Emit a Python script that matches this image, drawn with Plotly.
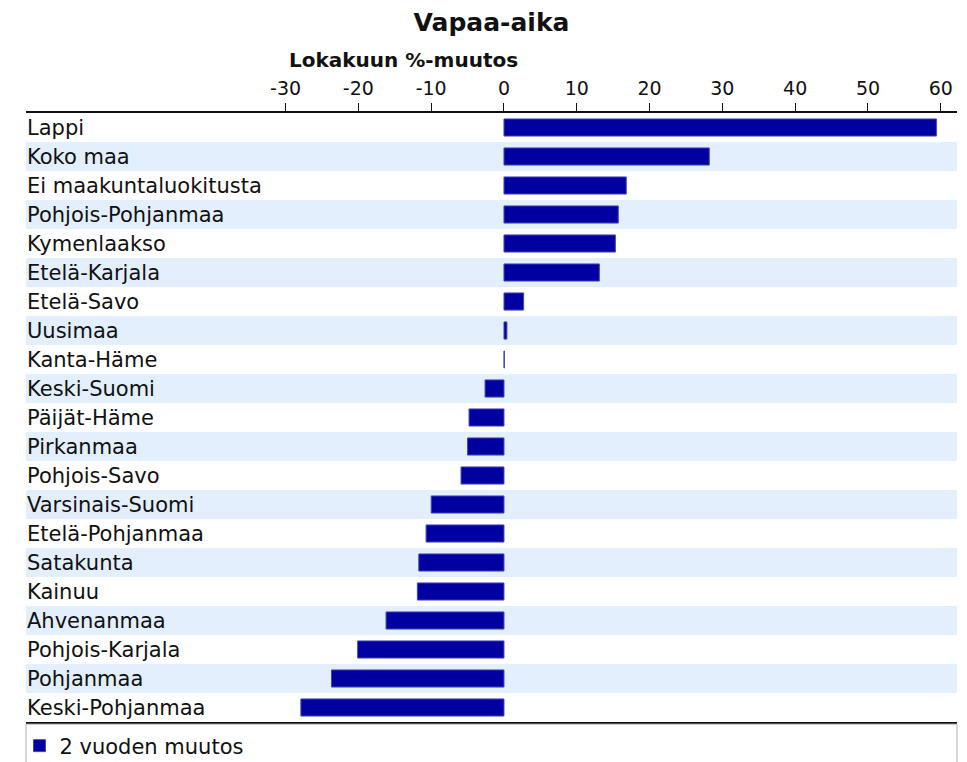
import plotly.graph_objects as go

regions = ["Lappi", "Koko maa", "Ei maakuntaluokitusta", "Pohjois-Pohjanmaa", "Kymenlaakso",
           "Etelä-Karjala", "Etelä-Savo", "Uusimaa", "Kanta-Häme", "Keski-Suomi", "Päijät-Häme",
           "Pirkanmaa", "Pohjois-Savo", "Varsinais-Suomi", "Etelä-Pohjanmaa", "Satakunta", "Kainuu",
           "Ahvenanmaa", "Pohjois-Karjala", "Pohjanmaa", "Keski-Pohjanmaa"]
change_2y = [59.4, 28.2, 16.8, 15.7, 15.3, 13.1, 2.7, 0.4, 0.05, -2.6, -4.8,
             -5.0, -5.9, -10.0, -10.7, -11.7, -11.9, -16.2, -20.1, -23.7, -27.9]
series_name = "2 vuoden muutos"
x_ticks = [-30, -20, -10, 0, 10, 20, 30, 40, 50, 60]
title_text = "Vapaa-aika"
subtitle_text = "Lokakuun %-muutos"

BAR = "#0000a0"
BAND = "#e3effd"
FONT = "DejaVu Sans, Noto Sans, sans-serif"
INK = "#111111"

fig = go.Figure()
fig.add_trace(go.Bar(
    y=regions, x=change_2y, orientation="h", name=series_name,
    marker=dict(color=BAR, line=dict(color="#4646b8", width=1)),
    showlegend=True,
))

shapes = []
for i, r in enumerate(regions):
    if i % 2 == 1:
        shapes.append(dict(type="rect", xref="paper", yref="y", x0=0, x1=1,
                           y0=i - 0.5, y1=i + 0.5, fillcolor=BAND, line=dict(width=0),
                           layer="below"))
# legend box
shapes.append(dict(type="rect", xref="paper", yref="paper", x0=0, x1=1,
                   y0=-0.0035, y1=-0.075, fillcolor="rgba(0,0,0,0)",
                   line=dict(color="#b0b0b0", width=1)))

fig.update_layout(
    width=967, height=762,
    margin=dict(l=26, r=10, t=113, b=40),
    paper_bgcolor="white", plot_bgcolor="white",
    bargap=0.41,
    shapes=shapes,
    title=dict(text="<b>" + title_text + "</b>", x=0.5, xref="paper", xanchor="center",
               y=1 - 22 / 762, yref="container", yanchor="middle",
               font=dict(family=FONT, size=25, color=INK)),
    annotations=[dict(text="<b>" + subtitle_text + "</b>", xref="paper", yref="paper",
                      x=(287 - 26) / 931, xanchor="left", y=(722 - 60) / 609, yanchor="middle",
                      showarrow=False, font=dict(family=FONT, size=20, color=INK))],
    xaxis=dict(side="top", range=[-65.66, 62.23], tickvals=x_ticks,
               ticktext=[str(v) for v in x_ticks],
               ticks="outside", ticklen=8, tickcolor=INK, tickwidth=1,
               showline=True, linecolor=INK, linewidth=2, mirror=True,
               showgrid=False, zeroline=False, automargin=False,
               tickfont=dict(family=FONT, size=19, color=INK)),
    yaxis=dict(categoryorder="array", categoryarray=regions, range=[20.5, -0.5],
               ticklabelposition="inside", ticks="", showgrid=False, zeroline=False,
               showline=False, ticklabelstandoff=-2, automargin=False,
               tickfont=dict(family=FONT, size=21, color=INK)),
    legend=dict(orientation="h", x=-0.007, xanchor="left",
                yref="container", y=1 - 746 / 762,
                yanchor="middle", font=dict(family=FONT, size=21, color=INK),
                bgcolor="rgba(0,0,0,0)", itemwidth=30),
)

fig.write_html("out.html", config={"displayModeBar": False},
               post_script="document.body.style.margin='0';document.body.style.overflow='hidden';")
